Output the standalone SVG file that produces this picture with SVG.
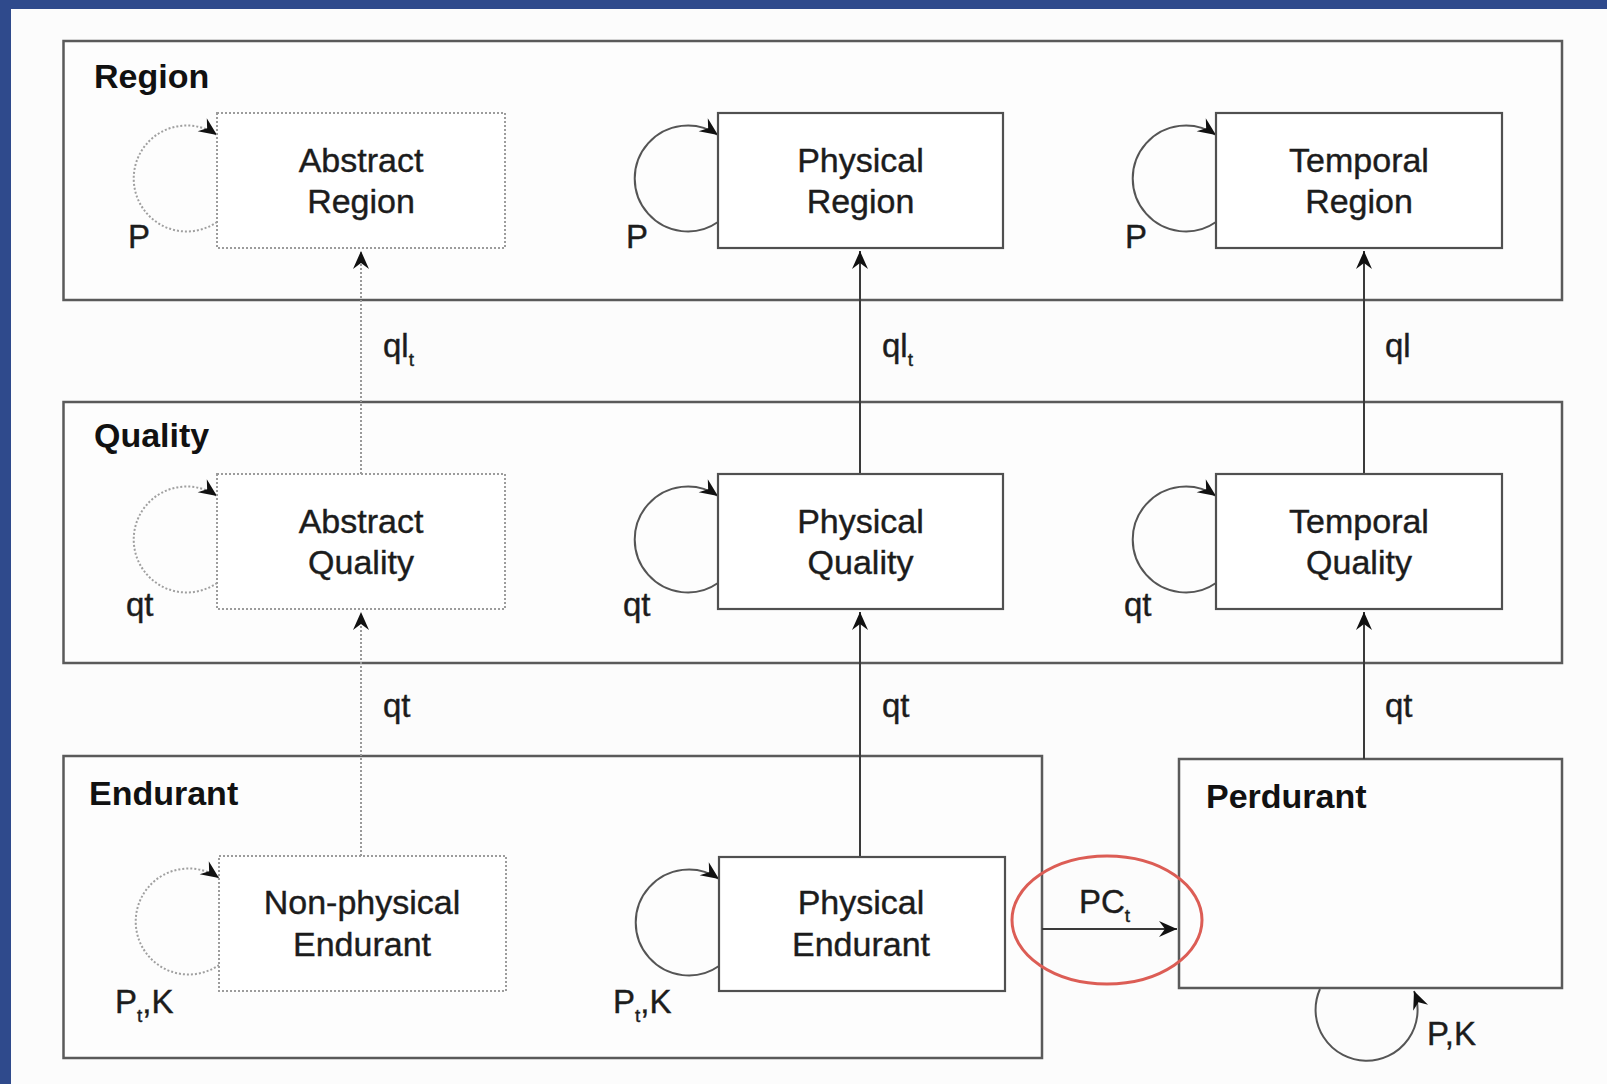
<svg xmlns="http://www.w3.org/2000/svg" width="1607" height="1084" viewBox="0 0 1607 1084">
<defs>
<style>
.frame{fill:#fdfdfd;stroke:#5a5a5a;stroke-width:2.5}
.box{fill:#fff;stroke:#505050;stroke-width:2.2}
.dbox{fill:#fff;stroke:#9c9c9c;stroke-width:2;stroke-dasharray:2 2}
.ln{fill:none;stroke:#3a3a3a;stroke-width:2}
.dln{fill:none;stroke:#999;stroke-width:2;stroke-dasharray:2 2}
.lp{fill:none;stroke:#555;stroke-width:2}
.dlp{fill:none;stroke:#a0a0a0;stroke-width:2;stroke-dasharray:2 2}
.t{font-family:"Liberation Sans",Arial,sans-serif;font-size:34px;fill:#1c1c1c;stroke:#1c1c1c;stroke-width:0.4;text-anchor:middle}
.h{font-family:"Liberation Sans",Arial,sans-serif;font-size:34px;font-weight:bold;fill:#111}
.l{font-family:"Liberation Sans",Arial,sans-serif;font-size:33px;fill:#1c1c1c;stroke:#1c1c1c;stroke-width:0.4}
.s{font-size:19px}
</style>
<marker id="ah" markerUnits="userSpaceOnUse" viewBox="-19 -9 20 18" markerWidth="20" markerHeight="18" refX="0" refY="0" orient="auto">
<path d="M0,0 L-18,-8 L-12,0 L-18,8 Z" fill="#111"/>
</marker>
</defs>
<rect x="0" y="0" width="1607" height="1084" fill="#fcfcfc"/>
<rect x="0" y="0" width="1607" height="9" fill="#2f4a8c"/>
<rect x="0" y="0" width="11" height="1084" fill="#2f4a8c"/>

<g id="region-frame">
<rect class="frame" x="63.5" y="41" width="1498.5" height="259"/>
<text class="h" x="94" y="88">Region</text>
</g>
<g id="quality-frame">
<rect class="frame" x="63.5" y="402" width="1498.5" height="261"/>
<text class="h" x="94" y="447">Quality</text>
</g>
<g id="endurant-frame">
<rect class="frame" x="63.5" y="756" width="978.5" height="302"/>
<text class="h" x="89" y="805">Endurant</text>
</g>
<g id="perdurant">
<rect class="frame" x="1179" y="759" width="383" height="229"/>
<text class="h" x="1206" y="808">Perdurant</text>
</g>

<g id="connectors">
<line class="dln" x1="361" y1="856" x2="361" y2="612" marker-end="url(#ah)"/>
<line class="dln" x1="361" y1="474" x2="361" y2="251" marker-end="url(#ah)"/>
<line class="ln" x1="860" y1="857" x2="860" y2="612" marker-end="url(#ah)"/>
<line class="ln" x1="860" y1="474" x2="860" y2="251" marker-end="url(#ah)"/>
<line class="ln" x1="1364" y1="759" x2="1364" y2="612" marker-end="url(#ah)"/>
<line class="ln" x1="1364" y1="474" x2="1364" y2="251" marker-end="url(#ah)"/>
<line class="ln" x1="1042" y1="929" x2="1177" y2="929" marker-end="url(#ah)"/>
<path class="dlp" d="M217,222 A53,53 0 1 1 217,135" marker-end="url(#ah)"/>
<path class="lp" d="M718,222 A53,53 0 1 1 718,135" marker-end="url(#ah)"/>
<path class="lp" d="M1216,222 A53,53 0 1 1 1216,135" marker-end="url(#ah)"/>
<path class="dlp" d="M217,583 A53,53 0 1 1 217,496" marker-end="url(#ah)"/>
<path class="lp" d="M718,583 A53,53 0 1 1 718,496" marker-end="url(#ah)"/>
<path class="lp" d="M1216,583 A53,53 0 1 1 1216,496" marker-end="url(#ah)"/>
<path class="dlp" d="M219,965 A53,53 0 1 1 219,878" marker-end="url(#ah)"/>
<path class="lp" d="M719,966 A53,53 0 1 1 719,879" marker-end="url(#ah)"/>
<path class="lp" d="M1320,989 A51,51 0 1 0 1414,991" marker-end="url(#ah)"/>
<text class="l" x="383" y="357">ql<tspan class="s" dy="9">t</tspan></text>
<text class="l" x="882" y="357">ql<tspan class="s" dy="9">t</tspan></text>
<text class="l" x="1385" y="357">ql</text>
<text class="l" x="383" y="717">qt</text>
<text class="l" x="882" y="717">qt</text>
<text class="l" x="1385" y="717">qt</text>
<text class="l" x="1079" y="913">PC<tspan class="s" dy="9">t</tspan></text>
<text class="l" x="128" y="248">P</text>
<text class="l" x="626" y="248">P</text>
<text class="l" x="1125" y="248">P</text>
<text class="l" x="126" y="616">qt</text>
<text class="l" x="623" y="616">qt</text>
<text class="l" x="1124" y="616">qt</text>
<text class="l" x="115" y="1013">P<tspan class="s" dy="9">t</tspan><tspan dy="-9">,K</tspan></text>
<text class="l" x="613" y="1013">P<tspan class="s" dy="9">t</tspan><tspan dy="-9">,K</tspan></text>
<text class="l" x="1427" y="1045">P,K</text>
<ellipse cx="1107" cy="920" rx="95" ry="64" fill="none" stroke="#dc5d55" stroke-width="3"/>
</g>

<g id="abstract-region">
<rect class="dbox" x="217" y="113" width="288" height="135"/>
<text class="t" x="361" y="172">Abstract</text>
<text class="t" x="361" y="213">Region</text>
</g>
<g id="physical-region">
<rect class="box" x="718" y="113" width="285" height="135"/>
<text class="t" x="860.5" y="172">Physical</text>
<text class="t" x="860.5" y="213">Region</text>
</g>
<g id="temporal-region">
<rect class="box" x="1216" y="113" width="286" height="135"/>
<text class="t" x="1359" y="172">Temporal</text>
<text class="t" x="1359" y="213">Region</text>
</g>
<g id="abstract-quality">
<rect class="dbox" x="217" y="474" width="288" height="135"/>
<text class="t" x="361" y="533">Abstract</text>
<text class="t" x="361" y="574">Quality</text>
</g>
<g id="physical-quality">
<rect class="box" x="718" y="474" width="285" height="135"/>
<text class="t" x="860.5" y="533">Physical</text>
<text class="t" x="860.5" y="574">Quality</text>
</g>
<g id="temporal-quality">
<rect class="box" x="1216" y="474" width="286" height="135"/>
<text class="t" x="1359" y="533">Temporal</text>
<text class="t" x="1359" y="574">Quality</text>
</g>
<g id="non-physical-endurant">
<rect class="dbox" x="219" y="856" width="287" height="135"/>
<text class="t" x="362" y="914">Non-physical</text>
<text class="t" x="362" y="956">Endurant</text>
</g>
<g id="physical-endurant">
<rect class="box" x="719" y="857" width="286" height="134"/>
<text class="t" x="861" y="914">Physical</text>
<text class="t" x="861" y="956">Endurant</text>
</g>
</svg>
